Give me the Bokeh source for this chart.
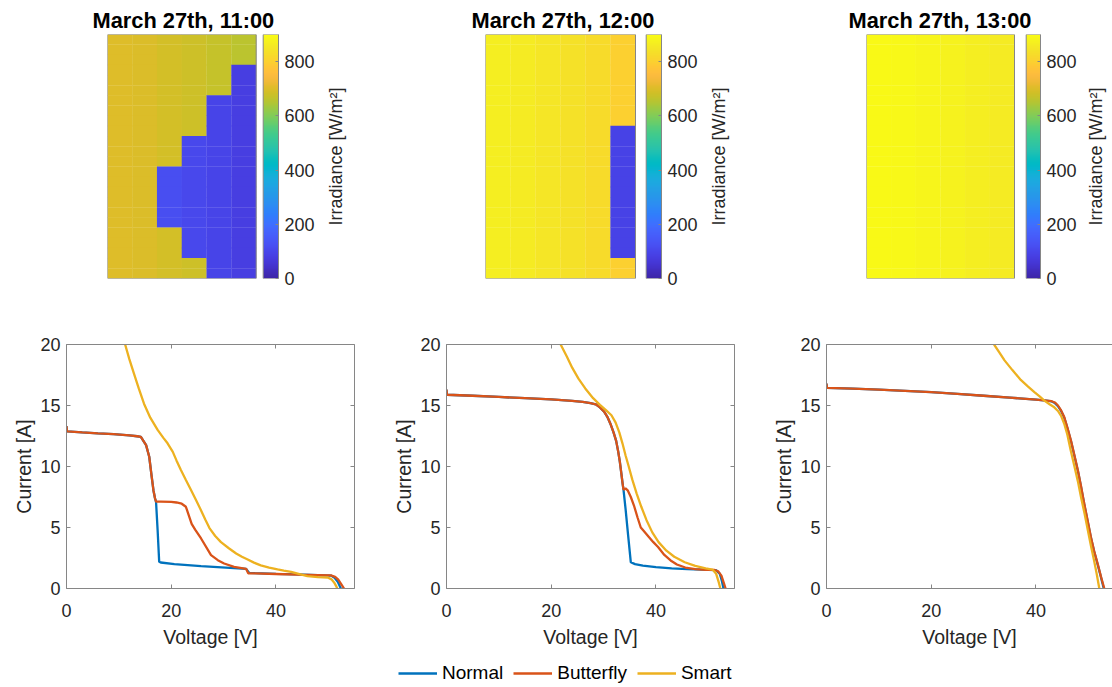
import numpy as np
from bokeh.plotting import figure
from bokeh.models import (Range1d, LinearAxis, FixedTicker, LinearColorMapper, Title,
                          ColumnDataSource, Legend, LegendItem, CustomJSTickFormatter)
from bokeh.layouts import column, row
from bokeh.transform import transform
from bokeh.embed import file_html
from bokeh.resources import INLINE

# ------------------------------------------------------------------ data
titles = ["March 27th, 11:00", "March 27th, 12:00", "March 27th, 13:00"]
cb_label = "Irradiance [W/m²]"
n_cols, n_rows = 6, 24          # half-cut module: 6 columns x 24 cell rows
irr_max = 900
cb_ticks = [0, 200, 400, 600, 800]

# per-column irradiance (W/m2) of sunny cells, shaded cells, shaded row span (top row = 0)
sun_11 = [702, 698, 688, 679, 669, 659]
shade_11 = [None, None, 118, 104, 92, 80]
span_11 = [None, None, (13, 19), (10, 22), (6, 24), (3, 24)]

sun_12 = [866, 858, 848, 838, 825, 800]
shade_12 = [None, None, None, None, None, 88]
span_12 = [None, None, None, None, None, (9, 22)]

sun_13 = [896, 891, 884, 876, 868, 858]
shade_13 = [None] * 6
span_13 = [None] * 6

# I-V curves (voltage V, current A)
v_norm_11 = [0, 0.1, 3, 6, 9, 12, 13.5, 14.2, 15.2, 15.8, 16.2, 16.6, 16.9, 17.1, 17.4, 17.7, 18.0, 20.6, 25.7, 32.0, 34.3, 34.9, 36, 40, 44, 48, 50.5, 51.2, 51.8, 52.4]
i_norm_11 = [13.3, 12.88, 12.8, 12.72, 12.65, 12.55, 12.48, 12.43, 11.75, 10.8, 9.4, 8.06, 7.4, 7.1, 4.8, 2.2, 2.13, 2.0, 1.83, 1.67, 1.61, 1.28, 1.26, 1.2, 1.15, 1.1, 1.06, 0.88, 0.55, 0]
v_bfly_11 = [0, 0.1, 3, 6, 9, 12, 13.5, 14.2, 15.2, 15.8, 16.2, 16.6, 16.9, 17.1, 18, 20, 21, 22, 22.8, 23.9, 24.6, 25.7, 27.6, 28.9, 30.1, 32.0, 34.3, 34.7, 36, 40, 44, 48, 50.5, 51.3, 51.9, 52.4, 53.0]
i_bfly_11 = [13.3, 12.88, 12.8, 12.72, 12.65, 12.55, 12.48, 12.43, 11.75, 10.8, 9.4, 8.06, 7.4, 7.12, 7.12, 7.1, 7.05, 6.95, 6.7, 5.3, 4.8, 4.1, 2.73, 2.32, 2.05, 1.78, 1.61, 1.25, 1.24, 1.19, 1.14, 1.1, 1.07, 0.96, 0.72, 0.4, 0]
v_smart_11 = [11.2, 12.0, 12.9, 13.8, 14.8, 16.0, 17.4, 18.5, 19.3, 20.3, 21.0, 21.8, 22.8, 23.8, 24.8, 25.7, 26.5, 27.3, 28.4, 29.5, 31, 32.4, 33.5, 34.6, 35.8, 37.1, 38.7, 40.3, 41.5, 42.9, 44.5, 46, 48, 49.9, 50.6, 51.1, 51.5, 51.7]
i_smart_11 = [20, 18.8, 17.6, 16.4, 15.15, 14.0, 13.0, 12.35, 11.9, 11.2, 10.5, 9.75, 8.9, 8.06, 7.2, 6.4, 5.65, 4.95, 4.3, 3.8, 3.3, 2.87, 2.6, 2.38, 2.12, 1.9, 1.72, 1.56, 1.47, 1.37, 1.18, 1.01, 0.94, 0.9, 0.75, 0.5, 0.2, 0]

v_norm_12 = [0, 0.1, 5, 10, 15, 20, 24, 26, 27.5, 28.5, 29.3, 30.1, 30.8, 31.4, 31.9, 32.4, 32.8, 33.1, 33.4, 33.6, 33.8, 34.2, 34.7, 35.2, 36, 37.5, 40, 43, 46, 50, 51.5, 52.2, 52.6, 52.9]
i_norm_12 = [16.3, 15.88, 15.8, 15.7, 15.6, 15.5, 15.38, 15.3, 15.2, 15.1, 14.85, 14.5, 14.0, 13.4, 12.8, 12.1, 11.2, 10.4, 9.4, 8.7, 8.1, 6.5, 4.3, 2.15, 2.0, 1.88, 1.75, 1.65, 1.58, 1.52, 1.5, 1.2, 0.6, 0]
v_bfly_12 = [0, 0.1, 5, 10, 15, 20, 24, 26, 27.5, 28.5, 29.3, 30.1, 30.8, 31.4, 31.9, 32.4, 32.8, 33.1, 33.4, 33.6, 33.8, 34.2, 34.6, 35.2, 35.8, 36.5, 37.1, 37.6, 38.4, 39.5, 40.4, 41.6, 42.8, 44.0, 45.6, 47.5, 49.5, 51.2, 51.9, 52.5, 53.0, 53.3]
i_bfly_12 = [16.3, 15.88, 15.8, 15.7, 15.6, 15.5, 15.38, 15.3, 15.2, 15.1, 14.85, 14.5, 14.0, 13.4, 12.8, 12.1, 11.2, 10.4, 9.4, 8.7, 8.1, 8.2, 8.05, 7.5, 6.8, 5.8, 5.0, 4.75, 4.35, 3.8, 3.4, 2.75, 2.3, 1.97, 1.72, 1.58, 1.53, 1.52, 1.4, 1.05, 0.4, 0]
v_smart_12 = [21.8, 23, 24, 25.2, 26.5, 28, 29.3, 30.5, 31.5, 32.3, 33, 33.6, 34.2, 34.8, 35.5, 36.3, 37.2, 38.2, 39.3, 40.5, 42, 43.5, 45.5, 47.5, 49.5, 50.8, 51.5, 52.0, 52.3]
i_smart_12 = [20, 19, 18.1, 17.2, 16.4, 15.6, 15.05, 14.6, 14.2, 13.6, 12.8, 11.9, 10.9, 10.0, 8.9, 7.8, 6.7, 5.6, 4.6, 3.8, 3.1, 2.6, 2.15, 1.85, 1.65, 1.55, 1.2, 0.5, 0]

v_norm_13 = [0, 0.1, 5, 10, 15, 20, 25, 30, 35, 40, 42, 43, 43.6, 44.2, 44.8, 45.4, 46.0, 46.7, 47.3, 48, 48.6, 49.2, 49.9, 50.5, 51.1, 51.8, 52.4, 52.95]
i_norm_13 = [16.8, 16.45, 16.38, 16.3, 16.2, 16.1, 15.95, 15.8, 15.65, 15.48, 15.4, 15.33, 15.2, 14.95, 14.55, 14.0, 13.15, 12.05, 10.95, 9.65, 8.35, 6.95, 5.45, 4.15, 3.05, 1.95, 0.95, 0]
v_bfly_13 = [0, 0.1, 5, 10, 15, 20, 25, 30, 35, 40, 42, 43, 43.6, 44.2, 44.8, 45.4, 46.0, 46.7, 47.3, 48, 48.6, 49.2, 49.9, 50.5, 51.1, 51.8, 52.4, 53.05]
i_bfly_13 = [16.8, 16.45, 16.38, 16.3, 16.2, 16.1, 15.95, 15.8, 15.65, 15.48, 15.4, 15.35, 15.25, 15.0, 14.6, 14.05, 13.2, 12.1, 11.0, 9.7, 8.4, 7.0, 5.5, 4.2, 3.1, 2.0, 1.0, 0]
v_smart_13 = [32, 33, 34, 35.5, 37.1, 38.5, 39.7, 40.7, 41.6, 42.6, 43.5, 44.2, 44.8, 45.4, 46, 46.6, 47.3, 48, 48.6, 49.3, 49.9, 50.5, 51.1, 51.6, 52.1]
i_smart_13 = [20, 19.35, 18.7, 17.9, 17.1, 16.55, 16.1, 15.75, 15.4, 15.1, 14.85, 14.55, 14.15, 13.5, 12.6, 11.4, 10.1, 8.8, 7.5, 6.1, 4.8, 3.5, 2.3, 1.2, 0]

series_names = ["Normal", "Butterfly", "Smart"]
series_colors = ["#0072BD", "#D95319", "#EDB120"]
x_ticks = [0, 20, 40]
y_ticks = [0, 5, 10, 15, 20]
v_max = 55
i_max = 20

# ------------------------------------------------------------------ colormap (parula)
parula64 = [
    (0.2422, 0.1504, 0.6603), (0.2504, 0.1650, 0.7076), (0.2578, 0.1818, 0.7511), (0.2647, 0.1978, 0.7952),
    (0.2706, 0.2147, 0.8364), (0.2751, 0.2342, 0.8710), (0.2783, 0.2559, 0.8991), (0.2803, 0.2782, 0.9221),
    (0.2813, 0.3006, 0.9414), (0.2810, 0.3228, 0.9579), (0.2795, 0.3447, 0.9717), (0.2760, 0.3667, 0.9829),
    (0.2699, 0.3892, 0.9906), (0.2602, 0.4123, 0.9952), (0.2440, 0.4358, 0.9988), (0.2206, 0.4603, 0.9973),
    (0.1963, 0.4847, 0.9892), (0.1834, 0.5074, 0.9798), (0.1786, 0.5289, 0.9682), (0.1764, 0.5499, 0.9520),
    (0.1687, 0.5703, 0.9359), (0.1540, 0.5902, 0.9218), (0.1460, 0.6091, 0.9079), (0.1380, 0.6276, 0.8973),
    (0.1248, 0.6459, 0.8883), (0.1113, 0.6635, 0.8763), (0.0952, 0.6798, 0.8598), (0.0689, 0.6948, 0.8394),
    (0.0297, 0.7082, 0.8163), (0.0036, 0.7206, 0.7917), (0.0067, 0.7312, 0.7660), (0.0433, 0.7411, 0.7394),
    (0.0964, 0.7500, 0.7120), (0.1408, 0.7584, 0.6842), (0.1717, 0.7670, 0.6554), (0.1938, 0.7758, 0.6251),
    (0.2161, 0.7843, 0.5923), (0.2470, 0.7918, 0.5567), (0.2906, 0.7973, 0.5188), (0.3406, 0.8008, 0.4789),
    (0.3909, 0.8029, 0.4354), (0.4456, 0.8024, 0.3909), (0.5044, 0.7993, 0.3480), (0.5616, 0.7942, 0.3045),
    (0.6174, 0.7876, 0.2612), (0.6720, 0.7793, 0.2227), (0.7242, 0.7698, 0.1910), (0.7738, 0.7598, 0.1646),
    (0.8203, 0.7498, 0.1535), (0.8634, 0.7406, 0.1596), (0.9035, 0.7330, 0.1774), (0.9393, 0.7288, 0.2100),
    (0.9728, 0.7298, 0.2394), (0.9956, 0.7434, 0.2371), (0.9970, 0.7659, 0.2199), (0.9952, 0.7893, 0.2028),
    (0.9892, 0.8136, 0.1885), (0.9786, 0.8386, 0.1766), (0.9676, 0.8639, 0.1643), (0.9610, 0.8890, 0.1537),
    (0.9597, 0.9135, 0.1423), (0.9628, 0.9373, 0.1265), (0.9691, 0.9606, 0.1064), (0.9769, 0.9839, 0.0805)]
_p = np.array(parula64)
_t = np.linspace(0, 1, 256)
_src = np.linspace(0, 1, len(parula64))
_rgb = np.stack([np.interp(_t, _src, _p[:, k]) for k in range(3)], axis=1)
parula = ["#%02x%02x%02x" % tuple(int(round(c * 255)) for c in rgb) for rgb in _rgb]
mapper = LinearColorMapper(palette=parula, low=0, high=irr_max)

FONT = "Liberation Sans"
TXT = "#262626"
AX = "#868686"
blank = CustomJSTickFormatter(code="return ''")

# ------------------------------------------------------------------ heatmaps
def heat_fig(title, sun, shade, span, page_left, page_right, frame_left, hm_right, cb_left, cb_right, title_left):
    width = page_right - page_left
    ml = frame_left - page_left
    mr = page_right - cb_right
    cell_px = (hm_right - frame_left) / n_cols
    x_end = (cb_right - frame_left) / cell_px
    cb_x0 = (cb_left - frame_left) / cell_px
    p = figure(width=width, height=300, x_range=Range1d(0, x_end), y_range=Range1d(0, n_rows),
               x_axis_type=None, y_axis_type=None, output_backend="svg", toolbar_location=None,
               min_border_left=ml, min_border_right=mr, min_border_top=34, min_border_bottom=22,
               title=title)
    p.title.align = "left"
    p.title.offset = title_left - frame_left
    p.title.standoff = 3
    p.title.text_font = FONT
    p.title.text_font_size = "21.8px"
    p.title.text_font_style = "bold"
    p.title.text_color = "black"
    p.outline_line_color = None
    p.grid.visible = False
    xs, ys, vals = [], [], []
    for c in range(n_cols):
        for r in range(n_rows):
            v = sun[c]
            if span[c] is not None and span[c][0] <= r < span[c][1]:
                v = shade[c]
            xs.append(c + 0.5)
            ys.append(n_rows - r - 0.5)
            vals.append(v)
    src = ColumnDataSource(dict(x=xs, y=ys, irr=vals))
    p.rect("x", "y", 1.01, 1.03, source=src, fill_color=transform("irr", mapper), line_color=None)
    p.rect(x=n_cols / 2, y=n_rows / 2, width=n_cols, height=n_rows, fill_color=None,
           line_color=AX, line_width=1)
    # colorbar
    p.extra_y_ranges = {"cb": Range1d(0, irr_max)}
    grad = np.linspace(0, irr_max, 256).reshape(256, 1)
    p.image(image=[grad], x=cb_x0, y=0, dw=x_end - cb_x0, dh=irr_max, color_mapper=mapper,
            y_range_name="cb")
    p.rect(x=(cb_x0 + x_end) / 2, y=irr_max / 2, width=x_end - cb_x0, height=irr_max,
           fill_color=None, line_color=AX, line_width=1, y_range_name="cb")
    ax = LinearAxis(y_range_name="cb", ticker=FixedTicker(ticks=cb_ticks))
    ax.axis_line_color = AX
    ax.major_tick_line_color = AX
    ax.major_tick_in = 3
    ax.major_tick_out = 0
    ax.minor_tick_line_color = None
    ax.major_label_text_font = FONT
    ax.major_label_text_font_size = "18px"
    ax.major_label_text_color = TXT
    ax.major_label_standoff = 6
    p.add_layout(ax, "right")
    return p


def cb_label_fig(page_left, page_right, text_edge):
    # narrow strip whose left-side title carries the rotated colour-bar label
    width = page_right - page_left
    ml = text_edge - page_left
    p = figure(width=width, height=300, x_range=Range1d(0, 1), y_range=Range1d(0, 1),
               x_axis_type=None, y_axis_type=None, output_backend="svg", toolbar_location=None,
               min_border_left=ml, min_border_right=0, min_border_top=34, min_border_bottom=22,
               title=None)
    p.outline_line_color = None
    p.grid.visible = False
    t = Title(text=cb_label, align="center", standoff=1, text_font=FONT,
              text_font_size="18px", text_font_style="normal", text_color=TXT)
    p.add_layout(t, "left")
    return p


h1 = heat_fig(titles[0], sun_11, shade_11, span_11, 0, 322, 107, 255.7, 262.7, 278, 92)
s1 = cb_label_fig(322, 380, 346)
h2 = heat_fig(titles[1], sun_12, shade_12, span_12, 380, 702, 485, 635, 645.7, 661, 471)
s2 = cb_label_fig(702, 760, 729)
h3 = heat_fig(titles[2], sun_13, shade_13, span_13, 760, 1080, 866, 1014, 1025.7, 1040, 848)
s3 = cb_label_fig(1080, 1112, 1106)

# ------------------------------------------------------------------ I-V curves
def style_axis(ax, labels=True):
    ax.axis_line_color = AX
    ax.major_tick_line_color = AX
    ax.major_tick_in = 4
    ax.major_tick_out = 0
    ax.minor_tick_line_color = None
    ax.major_label_text_font = FONT
    ax.major_label_text_color = TXT
    ax.major_label_text_font_size = "18px"
    if not labels:
        ax.formatter = blank
    ax.axis_label_text_font = FONT
    ax.axis_label_text_font_size = "19.5px"
    ax.axis_label_text_font_style = "normal"
    ax.axis_label_text_color = TXT


def iv_fig(curves, width, frame_left, page_left, right_axis=True):
    ml = frame_left - page_left
    frame_w = 288 if right_axis else width - ml
    mr = width - ml - frame_w
    x_end = v_max * frame_w / 288
    p = figure(width=width, height=350, x_range=Range1d(0, x_end), y_range=Range1d(0, i_max),
               output_backend="svg", toolbar_location=None, title=None,
               min_border_left=ml, min_border_right=mr, min_border_top=44, min_border_bottom=62)
    p.outline_line_color = None
    p.grid.visible = False
    for (vs, cs), col in zip(curves, series_colors):
        p.line(vs, cs, line_color=col, line_width=2.3)
    p.xaxis.ticker = FixedTicker(ticks=x_ticks)
    p.yaxis.ticker = FixedTicker(ticks=y_ticks)
    p.xaxis.axis_label = "Voltage [V]"
    p.yaxis.axis_label = "Current [A]"
    for ax in p.xaxis + p.yaxis:
        style_axis(ax)
    p.xaxis.major_label_standoff = 15
    p.xaxis.axis_label_standoff = 6
    p.yaxis.major_label_standoff = 6
    p.yaxis.axis_label_standoff = 2
    top = LinearAxis(ticker=FixedTicker(ticks=x_ticks))
    style_axis(top, labels=False)
    p.add_layout(top, "above")
    if right_axis:
        rt = LinearAxis(ticker=FixedTicker(ticks=y_ticks))
        style_axis(rt, labels=False)
        p.add_layout(rt, "right")
    return p


c1 = iv_fig([(v_norm_11, i_norm_11), (v_bfly_11, i_bfly_11), (v_smart_11, i_smart_11)], 380, 66, 0)
c2 = iv_fig([(v_norm_12, i_norm_12), (v_bfly_12, i_bfly_12), (v_smart_12, i_smart_12)], 380, 446, 380)
c3 = iv_fig([(v_norm_13, i_norm_13), (v_bfly_13, i_bfly_13), (v_smart_13, i_smart_13)], 352, 826, 760,
            right_axis=False)

# ------------------------------------------------------------------ legend strip
lg = figure(width=1112, height=37, x_range=Range1d(0, 1), y_range=Range1d(0, 1),
            x_axis_type=None, y_axis_type=None, output_backend="svg", toolbar_location=None,
            min_border=0, title=None)
lg.outline_line_color = None
lg.grid.visible = False
items = []
for name, col in zip(series_names, series_colors):
    r = lg.line([np.nan], [np.nan], line_color=col, line_width=2.3)
    items.append(LegendItem(label=name, renderers=[r]))
legend = Legend(items=items, orientation="horizontal", location=(398, 3.5),
                glyph_width=39, glyph_height=20, label_standoff=5, spacing=10,
                padding=0, margin=0, border_line_color=None, background_fill_alpha=0,
                label_text_font=FONT, label_text_font_size="19px", label_text_color="black")
lg.add_layout(legend)

layout = column(row(h1, s1, h2, s2, h3, s3), row(c1, c2, c3), lg)
open("out.html", "w").write(file_html(layout, INLINE))
